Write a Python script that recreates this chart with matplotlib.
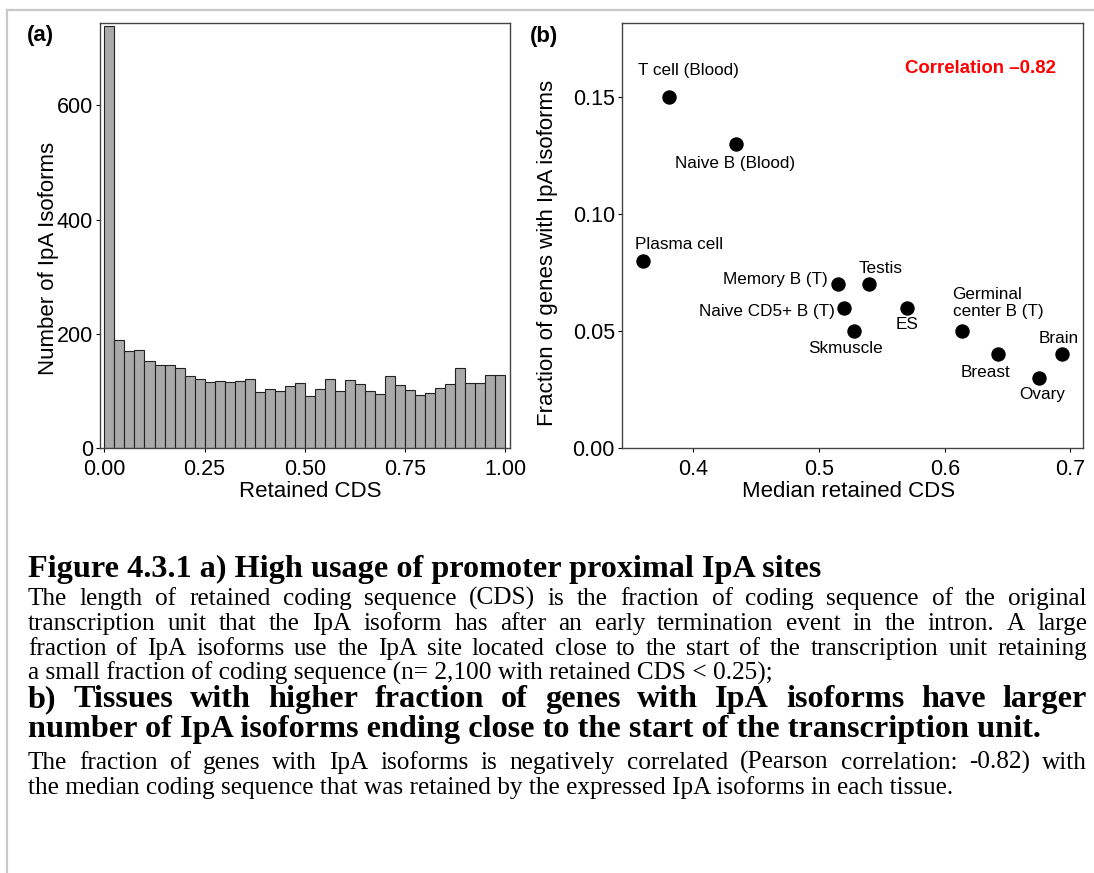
import numpy as np
import matplotlib.pyplot as plt
from matplotlib.lines import Line2D

W, H = 1094, 873

# (a) retained CDS histogram, 40 bins of width 0.025
bin_width = 0.025
bin_counts = [740, 188, 169, 171, 152, 145, 145, 140, 126, 120,
              116, 117, 116, 117, 120, 98, 103, 100, 109, 114,
              91, 103, 120, 100, 119, 111, 100, 95, 126, 110,
              102, 93, 96, 105, 111, 140, 114, 114, 128, 128]
hist_xticks = [0.0, 0.25, 0.5, 0.75, 1.0]
hist_yticks = [0, 200, 400, 600]

# (b) per-tissue median retained CDS vs fraction of genes with IpA isoforms
tissues = ["T cell (Blood)", "Naive B (Blood)", "Plasma cell", "Memory B (T)",
           "Testis", "Naive CD5+ B (T)", "ES", "Skmuscle",
           "Germinal\ncenter B (T)", "Breast", "Brain", "Ovary"]
median_cds = [0.381, 0.434, 0.360, 0.515, 0.540, 0.520, 0.570, 0.528,
              0.614, 0.642, 0.693, 0.675]
frac_genes = [0.15, 0.13, 0.08, 0.07, 0.07, 0.06, 0.06, 0.05,
              0.05, 0.04, 0.04, 0.03]
correlation = -0.82

caption = [
    ("Figure 4.3.1 a) High usage of promoter proximal IpA sites", "bold", False),
    ("The length of retained coding sequence (CDS) is the fraction of coding sequence of the original", "normal", True),
    ("transcription unit that the IpA isoform has after an early termination event in the intron. A large", "normal", True),
    ("fraction of IpA isoforms use the IpA site located close to the start of the transcription unit retaining", "normal", True),
    ("a small fraction of coding sequence (n= 2,100 with retained CDS < 0.25);", "normal", False),
    ("b) Tissues with higher fraction of genes with IpA isoforms have larger", "bold", True),
    ("number of IpA isoforms ending close to the start of the transcription unit.", "bold", False),
    ("The fraction of genes with IpA isoforms is negatively correlated (Pearson correlation: -0.82) with", "normal", True),
    ("the median coding sequence that was retained by the expressed IpA isoforms in each tissue.", "normal", False),
]

# label offsets in points (dx, dy, ha)
label_offsets = {
    "T cell (Blood)": (14, 19, "center"),
    "Naive B (Blood)": (-1, -14, "center"),
    "Plasma cell": (26, 12, "center"),
    "Memory B (T)": (-7.5, 3, "right"),
    "Testis": (8.5, 11, "center"),
    "Naive CD5+ B (T)": (-6.5, -3, "right"),
    "ES": (0, -12, "center"),
    "Skmuscle": (-6.5, -13, "center"),
    "Germinal\ncenter B (T)": (-7, 20, "left"),
    "Breast": (-9, -13, "center"),
    "Brain": (-2, 11.5, "center"),
    "Ovary": (2, -12, "center"),
}

plt.rcParams['font.family'] = ['Liberation Sans', 'DejaVu Sans']

fig = plt.figure(figsize=(W / 100, H / 100), dpi=100)
fig.patch.set_facecolor("white")


def style_axes(ax):
    for s in ax.spines.values():
        s.set_color("#444444")
        s.set_linewidth(1.0)
    ax.tick_params(direction="out", length=3, width=0.8, pad=2,
                   labelsize=15.5, top=False, right=False)
    ax.tick_params(axis="x", pad=5)
    ax.xaxis.label.set_va("center")
    ax.yaxis.label.set_va("center")


# ---- panel (a)
ax1 = fig.add_axes([100 / W, 1 - 447.7 / H, 410 / W, 425 / H])
left_edges = np.arange(len(bin_counts)) * bin_width
ax1.bar(left_edges, bin_counts, width=bin_width, align="edge",
        color="#aaaaaa", edgecolor="#222222", linewidth=0.8)
ax1.set_xlim(-0.011, 1.012)
ax1.set_ylim(0, 745)
ax1.set_xticks(hist_xticks)
ax1.set_xticklabels(["%.2f" % v for v in hist_xticks])
ax1.set_yticks(hist_yticks)
ax1.set_xlabel("Retained CDS", fontsize=16)
ax1.set_ylabel("Number of IpA Isoforms", fontsize=16)
style_axes(ax1)
ax1.xaxis.set_label_coords(0.514, -0.1035)
ax1.yaxis.set_label_coords(-0.1268, 0.4464)

# ---- panel (b)
ax2 = fig.add_axes([621.8 / W, 1 - 447.7 / H, 461.1 / W, 425 / H])
ax2.scatter(median_cds, frac_genes, s=88, color="black", zorder=3)
for name, x, y in zip(tissues, median_cds, frac_genes):
    dx, dy, ha = label_offsets[name]
    ax2.annotate(name, (x, y), xytext=(dx, dy), textcoords="offset points",
                 ha=ha, va="center", fontsize=12.3, linespacing=1.2)
ax2.text(0.6287, 0.1623, "Correlation \u2013%.2f" % abs(correlation),
         color="#ff0000", fontweight="bold", fontsize=13.4,
         ha="center", va="center")
ax2.set_xlim(0.3432, 0.7099)
ax2.set_ylim(0, 0.1819)
ax2.set_xticks([0.4, 0.5, 0.6, 0.7])
ax2.set_xticklabels(["0.4", "0.5", "0.6", "0.7"])
ax2.set_yticks([0.0, 0.05, 0.10, 0.15])
ax2.set_yticklabels(["0.00", "0.05", "0.10", "0.15"])
ax2.set_xlabel("Median retained CDS", fontsize=16)
ax2.set_ylabel("Fraction of genes with IpA isoforms", fontsize=16)
style_axes(ax2)
ax2.xaxis.set_label_coords(0.4927, -0.1035)
ax2.yaxis.set_label_coords(-0.1603, 0.4574)

fig.text(26.5 / W, 1 - 36 / H, "(a)", fontsize=16, fontweight="bold", va="center")
fig.text(530 / W, 1 - 36.5 / H, "(b)", fontsize=16, fontweight="bold", va="center")

# page frame lines
fig.add_artist(Line2D([7 / W, 1], [1 - 10 / H, 1 - 10 / H], color="#c8c8c8", lw=1.6))
fig.add_artist(Line2D([7 / W, 7 / W], [0, 1 - 10 / H], color="#c8c8c8", lw=1.6))

# ---- caption, Times-like, justified where the paragraph wraps
renderer = fig.canvas.get_renderer()
serif = ["Liberation Serif", "DejaVu Serif"]


def text_width(s, size, weight):
    t = fig.text(0, 0, s, fontsize=size, fontweight=weight, family=serif)
    w = t.get_window_extent(renderer).width
    t.remove()
    return w


x_left, x_right = 28, 1087
body_size = 0.95 * 12 * 782 / text_width(caption[4][0], 12, "normal")
bold_size = 12 * 787 / text_width(caption[0][0], 12, "bold")
baselines = [577, 605, 630, 655, 680, 707, 737, 769, 794]

for (line, weight, justify), yb in zip(caption, baselines):
    size = bold_size if weight == "bold" else body_size
    yf = 1 - yb / H
    if not justify:
        fig.text(x_left / W, yf, line, fontsize=size, fontweight=weight,
                 family=serif, va="baseline")
        continue
    words = line.split(" ")
    widths = [text_width(w, size, weight) for w in words]
    gap = (x_right - x_left - sum(widths)) / (len(words) - 1)
    x = x_left
    for w, wd in zip(words, widths):
        fig.text(x / W, yf, w, fontsize=size, fontweight=weight,
                 family=serif, va="baseline")
        x += wd + gap

fig.savefig("out.png", dpi=100)
